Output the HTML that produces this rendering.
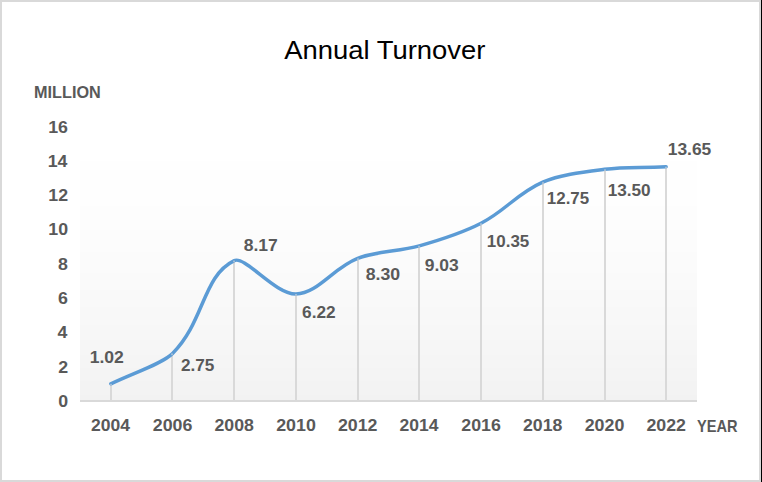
<!DOCTYPE html>
<html><head><meta charset="utf-8"><style>
html,body{margin:0;padding:0;background:#fff;}
svg{display:block;font-family:"Liberation Sans",sans-serif;}
</style></head><body>
<svg width="762" height="482" viewBox="0 0 762 482">
<rect x="0" y="0" width="762" height="482" fill="#ffffff"/>
<rect x="80" y="126.5" width="617" height="34.5" fill="rgb(255,255,255)"/><rect x="80" y="161" width="617" height="45" fill="rgb(254,254,254)"/><rect x="80" y="206" width="617" height="24" fill="rgb(253,253,253)"/><rect x="80" y="230" width="617" height="22" fill="rgb(252,252,252)"/><rect x="80" y="252" width="617" height="21" fill="rgb(251,251,251)"/><rect x="80" y="273" width="617" height="17" fill="rgb(250,250,250)"/><rect x="80" y="290" width="617" height="17" fill="rgb(249,249,249)"/><rect x="80" y="307" width="617" height="18" fill="rgb(248,248,248)"/><rect x="80" y="325" width="617" height="15" fill="rgb(247,247,247)"/><rect x="80" y="340" width="617" height="15" fill="rgb(246,246,246)"/><rect x="80" y="355" width="617" height="13" fill="rgb(245,245,245)"/><rect x="80" y="368" width="617" height="13" fill="rgb(244,244,244)"/><rect x="80" y="381" width="617" height="14" fill="rgb(243,243,243)"/><rect x="80" y="395" width="617" height="5.5" fill="rgb(242,242,242)"/>
<rect x="110" y="383.83" width="2" height="16.67" fill="#d9d9d9"/><rect x="171" y="353.41" width="2" height="47.09" fill="#d9d9d9"/><rect x="233" y="260.59" width="2" height="139.91" fill="#d9d9d9"/><rect x="295" y="293.98" width="2" height="106.52" fill="#d9d9d9"/><rect x="357" y="258.36" width="2" height="142.14" fill="#d9d9d9"/><rect x="418" y="245.86" width="2" height="154.64" fill="#d9d9d9"/><rect x="480" y="223.26" width="2" height="177.24" fill="#d9d9d9"/><rect x="542" y="182.16" width="2" height="218.34" fill="#d9d9d9"/><rect x="604" y="169.31" width="2" height="231.19" fill="#d9d9d9"/><rect x="665" y="166.74" width="2" height="233.76" fill="#d9d9d9"/>
<rect x="80" y="400" width="617" height="2" fill="#d9d9d9"/>
<path d="M110.85,383.83 C131.92,373.44 162.10,363.85 172.55,353.41 C204.73,321.27 202.44,275.91 234.25,260.59 C245.07,255.38 275.02,294.36 295.95,293.98 C317.65,293.59 333.28,267.86 357.65,258.36 C375.91,251.24 399.10,251.62 419.35,245.86 C441.73,239.49 462.71,232.72 481.05,223.26 C505.34,210.72 517.45,193.22 542.75,182.16 C560.08,174.58 582.63,172.04 604.45,169.31 C625.26,166.71 637.17,167.95 666.15,166.74" fill="none" stroke="#5b9bd5" stroke-width="3.5" stroke-linecap="round" stroke-linejoin="round"/>
<rect x="110" y="383.83" width="2" height="1.75" fill="#d9d9d9" fill-opacity="0.55"/><rect x="171" y="353.41" width="2" height="1.75" fill="#d9d9d9" fill-opacity="0.55"/><rect x="233" y="260.59" width="2" height="1.75" fill="#d9d9d9" fill-opacity="0.55"/><rect x="295" y="293.98" width="2" height="1.75" fill="#d9d9d9" fill-opacity="0.55"/><rect x="357" y="258.36" width="2" height="1.75" fill="#d9d9d9" fill-opacity="0.55"/><rect x="418" y="245.86" width="2" height="1.75" fill="#d9d9d9" fill-opacity="0.55"/><rect x="480" y="223.26" width="2" height="1.75" fill="#d9d9d9" fill-opacity="0.55"/><rect x="542" y="182.16" width="2" height="1.75" fill="#d9d9d9" fill-opacity="0.55"/><rect x="604" y="169.31" width="2" height="1.75" fill="#d9d9d9" fill-opacity="0.55"/><rect x="665" y="166.74" width="2" height="1.75" fill="#d9d9d9" fill-opacity="0.55"/>
<text transform="translate(284.15,58.55) scale(1.0608,1)" font-size="25.87" font-weight="normal" fill="#000000">Annual Turnover</text>
<text transform="translate(34.01,97.74) scale(0.9748,1)" font-size="16.67" font-weight="bold" fill="#595959">MILLION</text>
<text transform="translate(697.05,431.70) scale(0.8582,1)" font-size="17.01" font-weight="bold" fill="#595959">YEAR</text>
<text transform="translate(58.15,406.64) scale(1.0700,1)" font-size="16.60" font-weight="bold" fill="#595959">0</text>
<text transform="translate(58.13,372.55) scale(1.0700,1)" font-size="16.60" font-weight="bold" fill="#595959">2</text>
<text transform="translate(57.52,338.30) scale(1.0700,1)" font-size="16.60" font-weight="bold" fill="#595959">4</text>
<text transform="translate(58.06,303.89) scale(1.0700,1)" font-size="16.60" font-weight="bold" fill="#595959">6</text>
<text transform="translate(57.97,269.64) scale(1.0700,1)" font-size="16.60" font-weight="bold" fill="#595959">8</text>
<text transform="translate(48.27,235.39) scale(1.0700,1)" font-size="16.60" font-weight="bold" fill="#595959">10</text>
<text transform="translate(48.25,201.30) scale(1.0700,1)" font-size="16.60" font-weight="bold" fill="#595959">12</text>
<text transform="translate(47.64,167.05) scale(1.0700,1)" font-size="16.60" font-weight="bold" fill="#595959">14</text>
<text transform="translate(48.19,132.64) scale(1.0700,1)" font-size="16.60" font-weight="bold" fill="#595959">16</text>
<text transform="translate(91.09,430.64) scale(1.0561,1)" font-size="16.60" font-weight="bold" fill="#595959">2004</text>
<text transform="translate(152.78,430.64) scale(1.0712,1)" font-size="16.60" font-weight="bold" fill="#595959">2006</text>
<text transform="translate(214.49,430.64) scale(1.0686,1)" font-size="16.60" font-weight="bold" fill="#595959">2008</text>
<text transform="translate(276.18,430.64) scale(1.0737,1)" font-size="16.60" font-weight="bold" fill="#595959">2010</text>
<text transform="translate(337.88,430.64) scale(1.0732,1)" font-size="16.60" font-weight="bold" fill="#595959">2012</text>
<text transform="translate(399.59,430.64) scale(1.0561,1)" font-size="16.60" font-weight="bold" fill="#595959">2014</text>
<text transform="translate(461.28,430.64) scale(1.0712,1)" font-size="16.60" font-weight="bold" fill="#595959">2016</text>
<text transform="translate(522.99,430.64) scale(1.0686,1)" font-size="16.60" font-weight="bold" fill="#595959">2018</text>
<text transform="translate(584.68,430.64) scale(1.0737,1)" font-size="16.60" font-weight="bold" fill="#595959">2020</text>
<text transform="translate(646.38,430.64) scale(1.0732,1)" font-size="16.60" font-weight="bold" fill="#595959">2022</text>
<text transform="translate(89.69,362.64) scale(1.0589,1)" font-size="16.60" font-weight="bold" fill="#595959">1.02</text>
<text transform="translate(180.90,370.74) scale(1.0361,1)" font-size="16.60" font-weight="bold" fill="#595959">2.75</text>
<text transform="translate(243.74,250.84) scale(1.0563,1)" font-size="16.60" font-weight="bold" fill="#595959">8.17</text>
<text transform="translate(302.07,317.64) scale(1.0407,1)" font-size="16.60" font-weight="bold" fill="#595959">6.22</text>
<text transform="translate(365.64,279.51) scale(1.0675,1)" font-size="16.60" font-weight="bold" fill="#595959">8.30</text>
<text transform="translate(424.79,270.71) scale(1.0535,1)" font-size="16.60" font-weight="bold" fill="#595959">9.03</text>
<text transform="translate(486.83,246.71) scale(1.0217,1)" font-size="16.60" font-weight="bold" fill="#595959">10.35</text>
<text transform="translate(546.83,203.64) scale(1.0192,1)" font-size="16.60" font-weight="bold" fill="#595959">12.75</text>
<text transform="translate(607.72,195.61) scale(1.0348,1)" font-size="16.60" font-weight="bold" fill="#595959">13.50</text>
<text transform="translate(667.70,154.51) scale(1.0491,1)" font-size="16.60" font-weight="bold" fill="#595959">13.65</text>
<rect x="0" y="0" width="761" height="2" fill="#d9d9d9"/>
<rect x="0" y="0" width="2" height="482" fill="#d9d9d9"/>
<rect x="0" y="480" width="761" height="2" fill="#d9d9d9"/>
<rect x="759" y="0" width="2" height="482" fill="#d9d9d9"/>
<rect x="761" y="0" width="1" height="482" fill="#000000"/>
</svg>
</body></html>
